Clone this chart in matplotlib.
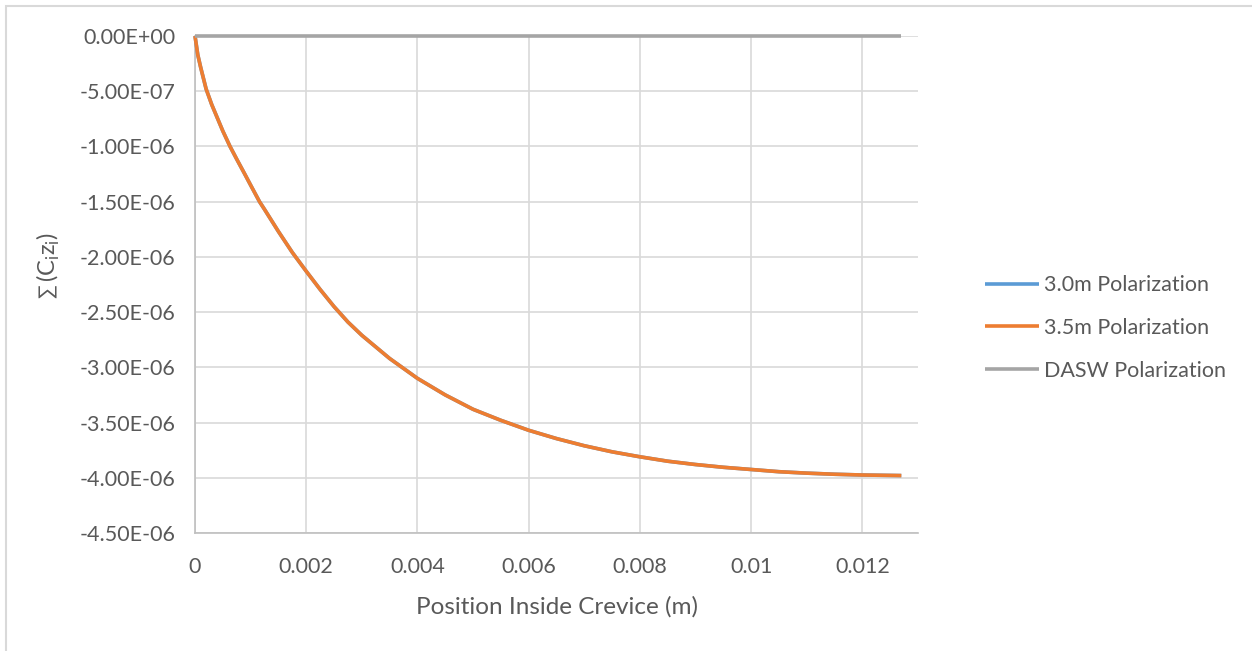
import numpy as np
import matplotlib.pyplot as plt
from matplotlib.patches import Rectangle
from matplotlib.ticker import FixedLocator, FuncFormatter

plt.rcParams['font.family'] = ['Lato', 'DejaVu Sans']

# position inside the crevice (m) and charge sum for each polarization
position = [0, 0.00005, 0.0001, 0.0002, 0.0003, 0.0004, 0.0005, 0.00063,
            0.00075, 0.0009, 0.001, 0.00116, 0.00125, 0.0015, 0.00175, 0.002,
            0.00225, 0.0025, 0.00275, 0.003, 0.0035, 0.004, 0.0045, 0.005,
            0.0055, 0.006, 0.0065, 0.007, 0.0075, 0.008, 0.0085, 0.009,
            0.0095, 0.010, 0.0105, 0.011, 0.0115, 0.012, 0.0127]
pol_35 = [0, -0.17, -0.28, -0.48, -0.62, -0.74, -0.86, -1.0,
          -1.115, -1.255, -1.35, -1.5, -1.57, -1.77, -1.96, -2.13,
          -2.295, -2.45, -2.59, -2.71, -2.92, -3.1, -3.25, -3.38,
          -3.48, -3.57, -3.645, -3.71, -3.765, -3.81, -3.85, -3.88,
          -3.905, -3.925, -3.945, -3.958, -3.968, -3.975, -3.98]
pol_35 = [v * 1e-6 for v in pol_35]
pol_30 = list(pol_35)
pol_dasw = [0.0] * len(position)

series_names = ['3.0m Polarization', '3.5m Polarization', 'DASW Polarization']
series_colors = ['#5b9bd5', '#ed7d31', '#a5a5a5']
text_col = '#595959'

fig = plt.figure(figsize=(12.52, 6.51), dpi=100, facecolor='white')
fig.patches.append(Rectangle((6 / 1252, -0.5), 2, 1.5 - 6 / 651, transform=fig.transFigure,
                             fill=False, edgecolor='#d9d9d9', linewidth=1.5))

ax = fig.add_axes([195 / 1252, 1 - 533 / 651, (918 - 195) / 1252, (533 - 36) / 651])

for ys, name, col in zip([pol_30, pol_35, pol_dasw], series_names, series_colors):
    ax.plot(position, ys, color=col, linewidth=2.6, label=name, solid_capstyle='butt',
            solid_joinstyle='round', zorder=3, clip_on=False)

ax.set_xlim(0, 0.013)
ax.set_ylim(-4.5e-6, 0)
ax.xaxis.set_major_locator(FixedLocator([0, 0.002, 0.004, 0.006, 0.008, 0.01, 0.012]))
ax.yaxis.set_major_locator(FixedLocator(np.arange(-4.5e-6, 1e-7, 0.5e-6)))
ax.xaxis.set_major_formatter(FuncFormatter(lambda v, p: '0' if abs(v) < 1e-9 else ('%g' % round(v, 4))))
ax.yaxis.set_major_formatter(FuncFormatter(lambda v, p: '%.2E' % (0.0 if abs(v) < 1e-12 else v)))

ax.grid(True, color='#d9d9d9', linewidth=1.2, zorder=0)
ax.tick_params(length=0, labelsize=15.5, labelcolor=text_col)
ax.tick_params(axis='x', pad=17)
ax.tick_params(axis='y', pad=14)
for side in ['top', 'right']:
    ax.spines[side].set_visible(False)
for side in ['left', 'bottom']:
    ax.spines[side].set_color('#bfbfbf')
    ax.spines[side].set_linewidth(1.2)

ax.set_xlabel('Position Inside Crevice (m)', fontsize=17.5, color=text_col, labelpad=14)

# y label: the summation sign is set smaller so it sits at text height
fig.text(48 / 1252, 1 - 291 / 651, '∑', rotation=90, ha='center', va='center',
         fontsize=14.5, color=text_col)
fig.text(48 / 1252, 1 - 257 / 651, '(C$_\\mathregular{i}$z$_\\mathregular{i}$)', rotation=90,
         ha='center', va='center', fontsize=17, color=text_col)

leg = fig.legend(loc='center left', bbox_to_anchor=(985 / 1252, 1 - 328 / 651), frameon=False,
                 fontsize=15.5, handlelength=2.5, handletextpad=0.25, labelspacing=1.05,
                 borderpad=0, borderaxespad=0)
for t in leg.get_texts():
    t.set_color(text_col)

fig.savefig('out.png', dpi=100, facecolor='white')
